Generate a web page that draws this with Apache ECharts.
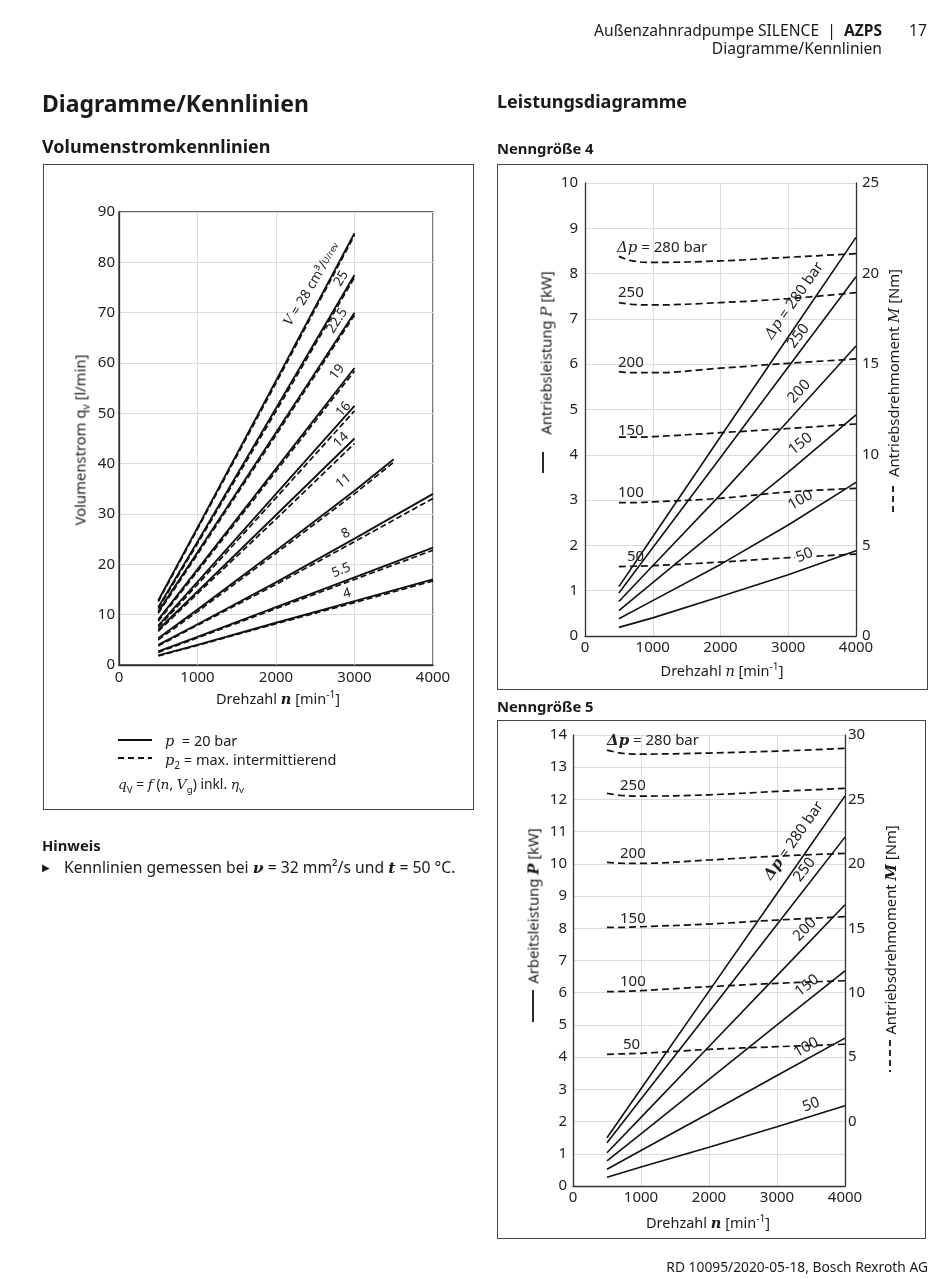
<!DOCTYPE html>
<html><head><meta charset="utf-8">
<script src="https://cdn.jsdelivr.net/npm/echarts@6/dist/echarts.min.js"></script>
<style>
body{margin:0;background:#fff;}
#page{position:relative;width:950px;height:1279px;font-family:'Noto Sans',sans-serif;color:#1a1a1a;overflow:hidden;}
#chart{position:absolute;left:0;top:0;width:950px;height:1279px;}
.t{position:absolute;white-space:nowrap;}
.box{position:absolute;border:1px solid #444;box-sizing:border-box;}
.rot{position:absolute;white-space:nowrap;transform:translate(-50%,-50%) rotate(-90deg);font-size:14.8px;line-height:17px;}
.c{position:absolute;white-space:nowrap;transform:translate(-50%,-50%);font-size:14.5px;line-height:17px;}
.it{font-family:'DejaVu Serif',serif;font-style:italic;}
.bi{font-family:'DejaVu Serif',serif;font-style:italic;font-weight:bold;}
sup,sub{font-size:70%;line-height:0;}
</style></head>
<body>
<div id="page">
  <div class="box" style="left:43px;top:164px;width:431px;height:646px;"></div>
  <div class="box" style="left:497px;top:164px;width:431px;height:526px;"></div>
  <div class="box" style="left:497px;top:720px;width:429px;height:519px;"></div>
  <div id="chart"></div>

  <div class="t" style="right:68px;top:21px;font-size:15.6px;line-height:18px;">Außenzahnradpumpe SILENCE&nbsp; | &nbsp;<b>AZPS</b></div>
  <div class="t" style="left:909px;top:21px;font-size:15.6px;line-height:18px;">17</div>
  <div class="t" style="right:68px;top:39px;font-size:15.6px;line-height:18px;">Diagramme/Kennlinien</div>

  <div class="t" style="left:42px;top:88px;font-size:23px;line-height:31px;font-weight:bold;">Diagramme/Kennlinien</div>
  <div class="t" style="left:42px;top:134px;font-size:18px;line-height:25px;font-weight:bold;">Volumenstromkennlinien</div>
  <div class="t" style="left:497px;top:89px;font-size:18px;line-height:25px;font-weight:bold;">Leistungsdiagramme</div>
  <div class="t" style="left:497px;top:138px;font-size:14.8px;line-height:20px;font-weight:bold;">Nenngröße 4</div>
  <div class="t" style="left:497px;top:696px;font-size:14.8px;line-height:20px;font-weight:bold;">Nenngröße 5</div>

  <div class="t" style="left:42px;top:835px;font-size:14.8px;line-height:20px;font-weight:bold;">Hinweis</div>
  <div class="t" style="left:42px;top:856px;font-size:15.7px;line-height:22px;"><span style="font-size:10px;position:relative;top:-2px;">▶</span><span style="position:absolute;left:22px;">Kennlinien gemessen bei <span class="bi">ν</span> = 32 mm²/s und <span class="bi">t</span> = 50 °C.</span></div>

  <div class="t" style="right:22px;top:1258px;font-size:13.8px;line-height:18px;">RD 10095/2020-05-18, Bosch Rexroth AG</div>

  <!-- chart 1 axis names & legend -->
  <div class="rot" style="left:80px;top:440px;">Volumenstrom q<sub>v</sub> [l/min]</div>
  <div class="c" style="left:278px;top:698px;">Drehzahl <span class="bi">n</span> [min<sup>-1</sup>]</div>
  <div class="t" style="left:165px;top:731px;font-size:14.5px;line-height:18px;"><span class="it">p</span>&nbsp; = 20 bar</div>
  <div class="t" style="left:165px;top:750px;font-size:14.5px;line-height:18px;"><span class="it">p</span><sub>2</sub> = max. intermittierend</div>
  <div class="t" style="left:118px;top:775px;font-size:13.8px;line-height:18px;"><span class="it">q</span><sub>V</sub> = <span class="it">f</span> (<span class="it">n</span>, <span class="it">V</span><sub>g</sub>) inkl. <span class="it">η</span><sub>v</sub></div>

  <!-- chart 2 axis names -->
  <div class="rot" style="left:546px;top:353px;">Antriebsleistung <span class="it">P</span> [kW]</div>
  <div class="rot" style="left:893px;top:373px;">Antriebsdrehmoment <span class="it">M</span> [Nm]</div>
  <div class="c" style="left:722px;top:671px;">Drehzahl <span class="it">n</span> [min<sup>-1</sup>]</div>

  <!-- chart 3 axis names -->
  <div class="rot" style="left:533px;top:906px;">Arbeitsleistung <span class="bi">P</span> [kW]</div>
  <div class="rot" style="left:890px;top:930px;">Antriebsdrehmoment <span class="bi">M</span> [Nm]</div>
  <div class="c" style="left:708px;top:1222px;">Drehzahl <span class="bi">n</span> [min<sup>-1</sup>]</div>
</div>

<script>
// ---------- Volumenstromkennlinien (q_v in l/min over n in 1/min) ----------
const nQ   = [500, 1000, 2000, 3000];
const nQ11 = [500, 1000, 2000, 3000, 3500];
const nQ4k = [500, 1000, 2000, 3000, 4000];
const sizesQ = ['28', '25', '22.5', '19', '16', '14', '11', '8', '5.5', '4'];
const q28  = [12.8, 27.3, 56.5, 85.8];   const q28d  = [12.6, 27.0, 56.0, 85.4];
const q25  = [11.5, 24.5, 51.0, 77.5];   const q25d  = [11.2, 24.1, 50.4, 77.0];
const q225 = [10.6, 22.4, 46.2, 70.0];   const q225d = [10.3, 22.0, 45.7, 69.5];
const q19  = [9.0, 19.0, 39.0, 59.0];    const q19d  = [8.7, 18.6, 38.5, 58.4];
const q16  = [7.8, 16.5, 34.0, 51.5];    const q16d  = [7.5, 16.0, 33.2, 50.5];
const q14  = [7.0, 14.6, 29.8, 45.0];    const q14d  = [6.7, 14.2, 29.0, 44.0];
const q11  = [5.3, 11.0, 22.7, 34.6, 40.9]; const q11d = [5.0, 10.6, 22.2, 34.0, 40.3];
const q8   = [4.0, 8.1, 16.4, 25.1, 34.0];  const q8d  = [3.8, 7.9, 16.0, 24.5, 33.1];
const q55  = [2.7, 5.6, 11.5, 17.4, 23.3];  const q55d = [2.5, 5.4, 11.2, 17.0, 22.8];
const q4   = [1.9, 4.0, 8.4, 12.7, 17.0];   const q4d  = [1.8, 3.9, 8.2, 12.4, 16.7];

// ---------- Leistungsdiagramme ----------
const nP = [500, 1000, 2000, 3000, 4000];          // power curves
const nM = [500, 700, 1000, 2000, 3000, 4000];     // torque curves
const dpLevels = ['280', '250', '200', '150', '100', '50'];
// Nenngröße 4: P [kW]
const p4_280 = [1.09, 2.19, 4.40, 6.60, 8.80];
const p4_250 = [0.95, 1.95, 3.94, 5.94, 7.93];
const p4_200 = [0.76, 1.55, 3.12, 4.75, 6.40];
const p4_150 = [0.56, 1.18, 2.41, 3.62, 4.88];
const p4_100 = [0.38, 0.78, 1.58, 2.45, 3.39];
const p4_50  = [0.19, 0.40, 0.87, 1.35, 1.88];
// Nenngröße 4: M [Nm]
const m4_280 = [20.95, 20.70, 20.62, 20.70, 20.90, 21.10];
const m4_250 = [18.40, 18.30, 18.27, 18.40, 18.62, 18.95];
const m4_200 = [14.59, 14.53, 14.53, 14.78, 15.05, 15.29];
const m4_150 = [10.97, 10.97, 11.00, 11.22, 11.45, 11.70];
const m4_100 = [7.36, 7.36, 7.40, 7.60, 7.95, 8.15];
const m4_50  = [3.83, 3.85, 3.88, 4.08, 4.32, 4.52];
// Nenngröße 5: P [kW]
const p5_280 = [1.50, 3.02, 6.05, 9.08, 12.11];
const p5_250 = [1.34, 2.70, 5.40, 8.12, 10.83];
const p5_200 = [1.03, 2.13, 4.33, 6.53, 8.73];
const p5_150 = [0.78, 1.62, 3.31, 5.00, 6.68];
const p5_100 = [0.52, 1.10, 2.26, 3.43, 4.59];
const p5_50  = [0.27, 0.59, 1.20, 1.84, 2.49];
// Nenngröße 5: M [Nm]
const m5_280 = [28.83, 28.60, 28.52, 28.60, 28.75, 28.96];
const m5_250 = [25.47, 25.32, 25.26, 25.36, 25.62, 25.86];
const m5_200 = [20.12, 20.05, 20.04, 20.30, 20.60, 20.81];
const m5_150 = [15.07, 15.07, 15.12, 15.33, 15.64, 15.90];
const m5_100 = [10.08, 10.10, 10.16, 10.47, 10.73, 10.93];
const m5_50  = [5.22, 5.25, 5.30, 5.60, 5.81, 6.00];

// tick labels
const xTicks = [0, 1000, 2000, 3000, 4000];

// ---------- annotation anchors in data units: [n, value, text, angleDeg, align, whiteBg] ----------
const ann1 = [
  [2460, 75.6, '{i|V} = 28 cm³/{s|U/rev}', 59, 'center', false],
  [2830, 76.8, '25', 59, 'center', false],
  [2780, 68.4, '22.5', 57, 'center', false],
  [2780, 58.2, '19', 52, 'center', false],
  [2860, 50.8, '16', 48, 'center', false],
  [2830, 44.7, '14', 44, 'center', false],
  [2860, 36.5, '11', 37, 'center', false],
  [2890, 26.1, '8', 29, 'center', false],
  [2830, 18.8, '5.5', 21, 'center', false],
  [2905, 14.2, '4', 15, 'center', false]
];
const ann2 = [
  [472, 8.57, '{i|Δp} = 280 bar', 0, 'left', false],
  [487, 7.57, '250', 0, 'left', false],
  [487, 6.03, '200', 0, 'left', false],
  [487, 4.53, '150', 0, 'left', false],
  [487, 3.16, '100', 0, 'left', false],
  [620, 1.74, '50', 0, 'left', false],
  [3090, 7.40, '{i|Δp} = 280 bar', 55, 'center', false],
  [3150, 6.62, '250', 53, 'center', false],
  [3160, 5.40, '200', 47, 'center', false],
  [3180, 4.24, '150', 39, 'center', false],
  [3180, 3.00, '100', 30, 'center', false],
  [3240, 1.78, '50', 22, 'center', true]
];
const ann3 = [
  [500, 13.82, '{b|Δp} = 280 bar', 0, 'left', false],
  [691, 12.42, '250', 0, 'left', false],
  [691, 10.31, '200', 0, 'left', false],
  [691, 8.29, '150', 0, 'left', false],
  [691, 6.34, '100', 0, 'left', false],
  [735, 4.38, '50', 0, 'left', false],
  [3250, 10.72, '{b|Δp} = 280 bar', 55, 'center', false],
  [3405, 9.82, '250', 52, 'center', false],
  [3410, 7.96, '200', 46, 'center', false],
  [3440, 6.22, '150', 38, 'center', false],
  [3430, 4.30, '100', 29, 'center', false],
  [3500, 2.52, '50', 20, 'center', false]
];

const INK = '#111';
const TXT = '#222';
const GRIDC = '#dcdcdc';

function pairs(xs, ys){ return xs.map((x,i)=>[x, ys[i]]); }
function line(data, xi, yi, dashed, w, smooth){
  return {
    type:'line', xAxisIndex:xi, yAxisIndex:yi, data:data, symbol:'none', silent:true,
    smooth: smooth || false, animation:false,
    lineStyle:{color:INK, width:w, type: dashed ? [7,4] : 'solid'}
  };
}

const series = [];
// chart 1
const qSolid = [[nQ,q28],[nQ,q25],[nQ,q225],[nQ,q19],[nQ,q16],[nQ,q14],[nQ11,q11],[nQ4k,q8],[nQ4k,q55],[nQ4k,q4]];
const qDash  = [[nQ,q28d],[nQ,q25d],[nQ,q225d],[nQ,q19d],[nQ,q16d],[nQ,q14d],[nQ11,q11d],[nQ4k,q8d],[nQ4k,q55d],[nQ4k,q4d]];
qSolid.forEach(s=>series.push(line(pairs(s[0],s[1]),0,0,false,1.9)));
qDash.forEach(s=>{ const l=line(pairs(s[0],s[1]),0,0,true,1.7); l.lineStyle.type=[6,3]; series.push(l); });
// chart 2
[p4_280,p4_250,p4_200,p4_150,p4_100,p4_50].forEach(d=>series.push(line(pairs(nP,d),1,1,false,1.6)));
[m4_280,m4_250,m4_200,m4_150,m4_100,m4_50].forEach(d=>series.push(line(pairs(nM,d),1,2,true,1.7,0.4)));
// chart 3
[p5_280,p5_250,p5_200,p5_150,p5_100,p5_50].forEach(d=>series.push(line(pairs(nP,d),2,3,false,1.6)));
[m5_280,m5_250,m5_200,m5_150,m5_100,m5_50].forEach(d=>series.push(line(pairs(nM,d),2,4,true,1.7,0.4)));

const FONT = 'Noto Sans';
function xAx(gi, margin){
  return {type:'value', gridIndex:gi, min:xTicks[0], max:xTicks[xTicks.length-1], interval:1000,
    axisLine:{show:true, onZero:false, lineStyle:{color:'#333', width:1.3}},
    axisTick:{show:false},
    axisLabel:{fontSize:15, color:TXT, fontFamily:FONT, margin:margin, formatter:(v=>String(v))},
    splitLine:{show:true, lineStyle:{color:GRIDC, width:1}}};
}
function yAx(gi, min, max, itv, pos, margin, split, hideNeg){
  return {type:'value', gridIndex:gi, min:min, max:max, interval:itv, position:pos,
    axisLine:{show:true, onZero:false, lineStyle:{color:'#333', width:1.3}},
    axisTick:{show:false},
    axisLabel:{fontSize:15, color:TXT, fontFamily:FONT, margin:margin,
      formatter: hideNeg ? (v=> v<0 ? '' : String(v)) : (v=>String(v))},
    splitLine:{show:split, lineStyle:{color:GRIDC, width:1}}};
}

const chart = echarts.init(document.getElementById('chart'), null, {renderer:'canvas'});
chart.setOption({
  animation:false,
  grid:[
    {left:119, top:212, width:314, height:453, show:true, borderColor:'#333', borderWidth:1.3, backgroundColor:'transparent'},
    {left:585, top:183, width:271, height:453},
    {left:573, top:735, width:272, height:451}
  ],
  xAxis:[xAx(0,5), xAx(1,4), xAx(2,4)],
  yAxis:[
    yAx(0, 0, 90, 10, 'left', 4, true),
    yAx(1, 0, 10, 1, 'left', 7, true),
    yAx(1, 0, 25, 5, 'right', 6, false),
    yAx(2, 0, 14, 1, 'left', 6, true),
    yAx(2, -5, 30, 5, 'right', 3, false, true)
  ],
  series:series
});

function annGraphics(list, xi, yi, fs){
  return list.map(a=>{
    const p = chart.convertToPixel({xAxisIndex:xi, yAxisIndex:yi}, [a[0], a[1]]);
    const st = {text:a[2], fill:TXT, fontSize:fs, fontFamily:FONT, align:a[4], verticalAlign:'middle',
      rich:{
        i:{fontFamily:'DejaVu Serif', fontStyle:'italic', fontSize:fs, fill:TXT},
        b:{fontFamily:'DejaVu Serif', fontStyle:'italic', fontWeight:'bold', fontSize:fs, fill:TXT},
        s:{fontSize:9, fill:TXT, fontFamily:FONT}
      }};
    if (a[5]) { st.backgroundColor = '#fff'; st.padding = [0,1]; }
    return {type:'text', x:p[0], y:p[1], rotation:a[3]*Math.PI/180, z:100, silent:true, style:st};
  });
}
function deco(x1,y1,x2,y2,dash){
  return {type:'line', z:100, silent:true, shape:{x1:x1,y1:y1,x2:x2,y2:y2},
    style:{stroke:INK, lineWidth:1.8, lineDash: dash || null}};
}
const graphics = [].concat(
  annGraphics(ann1, 0, 0, 13.5),
  annGraphics(ann2, 1, 1, 15),
  annGraphics(ann3, 2, 3, 15),
  [
    deco(118,740,152,740),
    deco(118,758,152,758,[6,4]),
    deco(543,452,543,473),
    deco(893,486,893,516,[6,4]),
    deco(533,990,533,1022),
    deco(890,1040,890,1072,[6,4])
  ]
);
chart.setOption({graphic: graphics});
</script>
</body></html>
